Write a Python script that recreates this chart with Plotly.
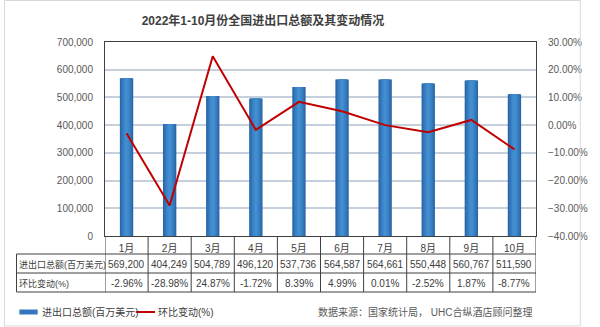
import plotly.graph_objects as go

months = ["1月", "2月", "3月", "4月", "5月", "6月", "7月", "8月", "9月", "10月"]
total = [569200, 404249, 504789, 496120, 537736, 564587, 564661, 550448, 560767, 511590]
change = [-2.96, -28.98, 24.87, -1.72, 8.39, 4.99, 0.01, -2.52, 1.87, -8.77]
row_names = ["进出口总额(百万美元)", "环比变动(%)"]
bar_name = "进出口总额(百万美元)"
line_name = "环比变动(%)"

FONT = "Liberation Sans, Noto Sans CJK SC"
TXT = "#404040"
FS = 10

L, R, T, B = 105, 47, 42, 91
W, H = 600, 327
PW, PH = W - L - R, H - T - B

def px_x(p):
    return (p - L) / PW

def px_y(p):
    return (H - B - p) / PH

fig = go.Figure()

layers = [(0.31, "#2a67a7"), (0.25, "#3174b5"), (0.18, "#3980c2"), (0.11, "#3f89cc"), (0.05, "#448fd2")]
for i, (w, c) in enumerate(layers):
    fig.add_trace(go.Bar(
        x=months, y=total, width=w, marker=dict(color=c, line=dict(width=0)),
        name=bar_name, showlegend=False, yaxis="y", hoverinfo="skip",
    ))

fig.add_trace(go.Scatter(
    x=months, y=change, mode="lines", name=line_name, yaxis="y2",
    line=dict(color="#c00000", width=2), showlegend=False,
))

fig.update_layout(
    width=W, height=H, margin=dict(l=L, r=R, t=T, b=B),
    paper_bgcolor="white", plot_bgcolor="white",
    barmode="overlay",
    font=dict(family=FONT, size=FS, color=TXT),
    title=dict(text="<b>2022年1-10月份全国进出口总额及其变动情况</b>", x=263 / W, xanchor="center",
               y=1 - 21 / H, yanchor="middle",
               font=dict(size=12, color="#404040", family="Liberation Sans, Noto Sans CJK SC")),
    xaxis=dict(showgrid=False, ticks="", showline=True, linecolor="#404040", linewidth=1,
               mirror=True, tickfont=dict(size=FS, color=TXT), range=[-0.5, 9.5],
               ticklabelstandoff=3),
    yaxis=dict(range=[0, 700000], dtick=100000, tickformat=",d", showgrid=True,
               gridcolor="#c6cfdc", gridwidth=1.5, showline=True, linecolor="#404040",
               linewidth=1, ticks="", ticklabelstandoff=9, zeroline=False,
               tickfont=dict(size=FS, color="#595959")),
    yaxis2=dict(range=[-40, 30], dtick=10, overlaying="y", side="right", showgrid=False,
                ticksuffix="%", tickformat=".2f", showline=True, linecolor="#404040", linewidth=1,
                ticks="", ticklabelstandoff=9, zeroline=False,
                tickfont=dict(size=FS, color="#595959")),
    showlegend=False,
)

shapes = []
line_c = "#404040"
y_hdr_top, y1, y2, y3 = 236, 254, 273, 292
x_left, x_right = 13, 553
for yy in (y1, y2, y3):
    shapes.append(dict(type="line", xref="paper", yref="paper", x0=px_x(x_left), x1=px_x(x_right),
                       y0=px_y(yy), y1=px_y(yy), line=dict(color=line_c, width=1)))
shapes.append(dict(type="line", xref="paper", yref="paper", x0=px_x(x_left), x1=px_x(x_left),
                   y0=px_y(y1), y1=px_y(y3), line=dict(color=line_c, width=1)))
for i in range(len(months) + 1):
    shapes.append(dict(type="line", xref="x", yref="paper", x0=i - 0.5, x1=i - 0.5,
                       y0=px_y(y_hdr_top), y1=px_y(y3), line=dict(color=line_c, width=1)))
shapes.append(dict(type="rect", xref="paper", yref="paper", x0=px_x(16), x1=px_x(35),
                   y0=px_y(314.5), y1=px_y(309.5), line=dict(width=0), fillcolor="#3478bb"))
shapes.append(dict(type="line", xref="paper", yref="paper", x0=px_x(137), x1=px_x(157),
                   y0=px_y(312), y1=px_y(312), line=dict(color="#c00000", width=2)))
shapes.append(dict(type="rect", xref="paper", yref="paper", x0=px_x(0.5), x1=px_x(599),
                   y0=px_y(326), y1=px_y(0.5), line=dict(color="#d9d9d9", width=1)))

annotations = []
for j, nm in enumerate(row_names):
    annotations.append(dict(text=nm, xref="paper", yref="paper", x=px_x(14), y=px_y([264, 283][j]),
                            xanchor="left", yanchor="middle", showarrow=False,
                            font=dict(size=9, color=TXT)))
for i, m in enumerate(months):
    annotations.append(dict(text=f"{total[i]:,}", xref="x", yref="paper", x=i, y=px_y(264),
                            xanchor="center", yanchor="middle", showarrow=False,
                            font=dict(size=FS, color=TXT)))
    annotations.append(dict(text=f"{change[i]:.2f}%", xref="x", yref="paper", x=i, y=px_y(283),
                            xanchor="center", yanchor="middle", showarrow=False,
                            font=dict(size=FS, color=TXT)))
annotations.append(dict(text=bar_name, xref="paper", yref="paper", x=px_x(37), y=px_y(312),
                        xanchor="left", yanchor="middle", showarrow=False,
                        font=dict(size=FS, color=TXT)))
annotations.append(dict(text=line_name, xref="paper", yref="paper", x=px_x(158), y=px_y(312),
                        xanchor="left", yanchor="middle", showarrow=False,
                        font=dict(size=FS, color=TXT)))
annotations.append(dict(text="数据来源：国家统计局， UHC合纵酒店顾问整理", xref="paper", yref="paper",
                        x=px_x(551), y=px_y(312), xanchor="right", yanchor="middle", showarrow=False,
                        font=dict(size=FS, color="#595959")))

fig.update_layout(shapes=shapes, annotations=annotations)
fig.write_html("out.html")
